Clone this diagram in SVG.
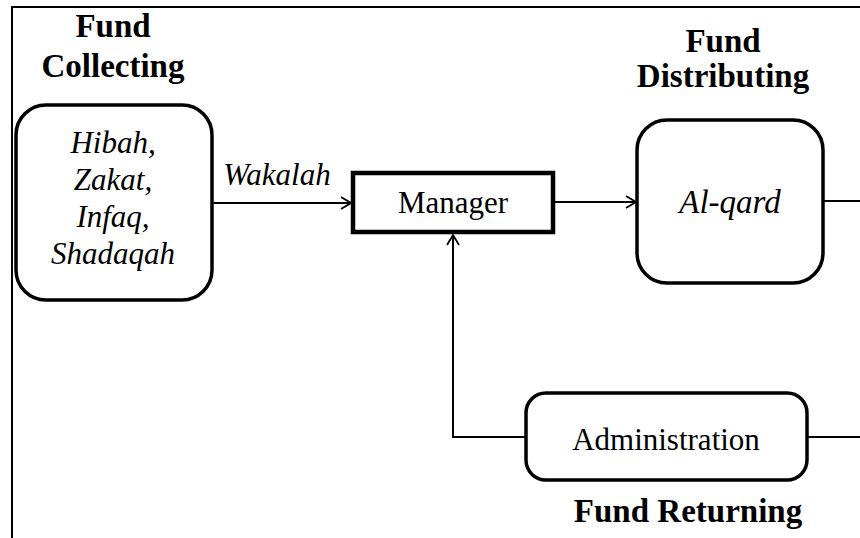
<svg xmlns="http://www.w3.org/2000/svg" width="860" height="538" viewBox="0 0 860 538">
<defs>
<style>
.box{fill:#fff;stroke:#000;stroke-width:3.5}
.ln{fill:none;stroke:#000;stroke-width:2}
.hd{font-family:"Liberation Serif","Times New Roman",serif;font-weight:bold;font-size:33px;text-anchor:middle;fill:#000}
.it{font-family:"Liberation Serif","Times New Roman",serif;font-style:italic;font-size:31px;text-anchor:middle;fill:#000}
.rg{font-family:"Liberation Serif","Times New Roman",serif;font-size:31px;text-anchor:middle;fill:#000}
</style>
<marker id="arr" viewBox="0 0 12 14" refX="11" refY="7" markerWidth="12" markerHeight="14" markerUnits="userSpaceOnUse" orient="auto">
<path d="M1,1 L11,7 L1,13" fill="none" stroke="#000" stroke-width="1.8"/>
</marker>
</defs>
<rect width="860" height="538" fill="#fff"/>
<path d="M12,538 V7 H860" fill="none" stroke="#000" stroke-width="2"/>
<g id="connectors">
<line class="ln" x1="212" y1="203" x2="351" y2="203" marker-end="url(#arr)"/>
<line class="ln" x1="553" y1="202" x2="636" y2="202" marker-end="url(#arr)"/>
<line class="ln" x1="823" y1="201" x2="860" y2="201"/>
<line class="ln" x1="807" y1="437" x2="860" y2="437"/>
<polyline class="ln" points="526,437 453,437 453,235" marker-end="url(#arr)"/>
<text class="it" x="277" y="185">Wakalah</text>
</g>
<g id="fund-collecting">
<text class="hd" x="113" y="37">Fund</text>
<text class="hd" x="113" y="77">Collecting</text>
<rect class="box" x="16" y="105" width="196" height="195" rx="30"/>
<text class="it" x="113" y="153">Hibah,</text>
<text class="it" x="113" y="190">Zakat,</text>
<text class="it" x="113" y="227">Infaq,</text>
<text class="it" x="113" y="264">Shadaqah</text>
</g>
<g id="manager">
<rect x="353" y="173" width="200" height="59" fill="#fff" stroke="#000" stroke-width="4.5"/>
<text class="rg" x="453" y="213">Manager</text>
</g>
<g id="fund-distributing">
<text class="hd" x="723" y="52">Fund</text>
<text class="hd" x="723" y="87">Distributing</text>
<rect class="box" x="637" y="120" width="186" height="163" rx="30"/>
<text class="it" x="730" y="213" style="font-size:33px">Al-qard</text>
</g>
<g id="fund-returning">
<rect class="box" x="526" y="393" width="281" height="87" rx="20"/>
<text class="rg" x="666" y="450">Administration</text>
<text class="hd" x="688" y="522">Fund Returning</text>
</g>
</svg>
